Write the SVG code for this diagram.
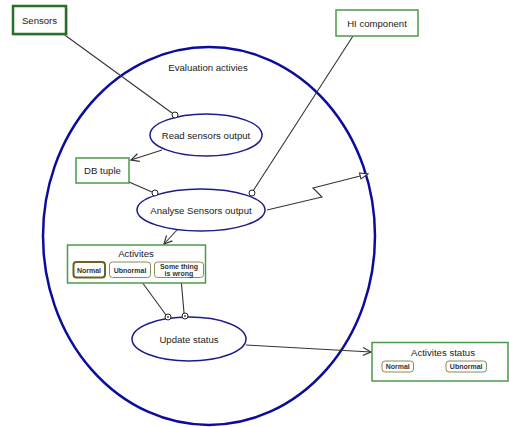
<svg xmlns="http://www.w3.org/2000/svg" width="509" height="427" viewBox="0 0 509 427">
  <style>
    text { font-family: "Liberation Sans", Arial, sans-serif; fill: #222; }
    .lbl { font-size: 9.6px; text-anchor: middle; }
    .small { font-size: 7px; font-weight: bold; text-anchor: middle; fill: #333; }
    .box { fill: #fff; stroke: #4a9a4a; stroke-width: 1.5; }
    .sub { fill: #fff; stroke: #8a8a5a; stroke-width: 1; }
    .usecase { fill: #fff; stroke: #1c1c8c; stroke-width: 1.5; }
    .conn { fill: none; stroke: #333; stroke-width: 1.1; }
    .port { fill: #fff; stroke: #222; stroke-width: 1; }
  </style>
  <defs>
    <marker id="open" viewBox="0 0 10 10" refX="9" refY="5" markerWidth="10" markerHeight="10" markerUnits="userSpaceOnUse" orient="auto">
      <path d="M1,1 L9,5 L1,9" fill="none" stroke="#333" stroke-width="1.2"/>
    </marker>
    <marker id="hollow" viewBox="0 0 10 8" refX="9" refY="4" markerWidth="10" markerHeight="8" markerUnits="userSpaceOnUse" orient="auto">
      <path d="M1,1 L9,4 L1,7 Z" fill="#fff" stroke="#333" stroke-width="1.1"/>
    </marker>
  </defs>

  <rect width="509" height="427" fill="#fff"/>

  <!-- system boundary -->
  <g id="evaluation">
    <ellipse cx="209" cy="236" rx="166" ry="189" fill="none" stroke="#0c0c9c" stroke-width="2.5"/>
    <text x="208" y="71" class="lbl">Evaluation activies</text>
  </g>

  <!-- connectors -->
  <g id="connectors">
    <line class="conn" x1="62" y1="33" x2="172" y2="113"/>
    <line class="conn" x1="162" y1="150" x2="131" y2="160" marker-end="url(#open)"/>
    <line class="conn" x1="129" y1="182" x2="152" y2="192"/>
    <line class="conn" x1="353" y1="36" x2="253" y2="191"/>
    <polyline class="conn" points="267,210 322,197 313,188 368,174" marker-end="url(#hollow)"/>
    <line class="conn" x1="177" y1="230" x2="164" y2="244" marker-end="url(#open)"/>
    <line class="conn" x1="139" y1="278" x2="166" y2="315"/>
    <line class="conn" x1="181" y1="278" x2="184" y2="313"/>
    <line class="conn" x1="246" y1="345" x2="371" y2="352" marker-end="url(#open)"/>
  </g>

  <g id="sensors">
    <rect x="15" y="8" width="53" height="28" fill="#bbb" opacity="0.5"/>
    <rect x="13" y="6" width="53" height="28" fill="#fff" stroke="#2a6e2a" stroke-width="2.5"/>
    <text x="39.5" y="24" class="lbl">Sensors</text>
  </g>

  <g id="hi-component">
    <rect x="336" y="10" width="82" height="26" class="box"/>
    <text x="377" y="26.5" class="lbl">HI component</text>
  </g>

  <g id="read-sensors">
    <ellipse cx="206" cy="135" rx="56" ry="21" class="usecase"/>
    <text x="206" y="138.5" class="lbl">Read sensors output</text>
    <circle cx="175" cy="115" r="3" class="port"/>
  </g>

  <g id="db-tuple">
    <rect x="76" y="158" width="53" height="25" class="box"/>
    <text x="102.5" y="174" class="lbl">DB tuple</text>
  </g>

  <g id="analyse-sensors">
    <ellipse cx="201" cy="210" rx="64" ry="21" class="usecase"/>
    <text x="201" y="214" class="lbl">Analyse Sensors output</text>
    <circle cx="155" cy="193" r="3" class="port"/>
    <circle cx="252" cy="193" r="3" class="port"/>
  </g>

  <g id="activites">
    <rect x="67.5" y="245" width="138" height="38" class="box"/>
    <text x="136" y="257" class="lbl">Activites</text>
    <rect x="73.5" y="262" width="31.5" height="15.5" rx="3" fill="#fff" stroke="#6a6422" stroke-width="2"/>
    <text x="89" y="272.5" class="small">Normal</text>
    <rect x="109.5" y="262" width="41" height="15.5" rx="3" class="sub"/>
    <text x="130" y="272.5" class="small">Ubnormal</text>
    <rect x="154.5" y="262" width="49" height="15.5" rx="3" class="sub"/>
    <text x="179" y="269" class="small">Some thing</text>
    <text x="179" y="276" class="small">is wrong</text>
  </g>

  <g id="update-status">
    <ellipse cx="189" cy="339" rx="57" ry="22" class="usecase"/>
    <text x="189" y="343" class="lbl">Update status</text>
    <circle cx="168" cy="317" r="3" class="port"/>
    <circle cx="185" cy="316" r="3" class="port"/>
    <circle cx="168" cy="317" r="1" fill="#555"/>
    <circle cx="185" cy="316" r="1" fill="#555"/>
  </g>

  <g id="activites-status">
    <rect x="372" y="342.5" width="136" height="38.5" class="box"/>
    <text x="443" y="355.5" class="lbl">Activites status</text>
    <rect x="382" y="361" width="31.5" height="11" rx="3" class="sub"/>
    <text x="397.7" y="369" class="small">Normal</text>
    <rect x="446" y="361" width="40.5" height="11" rx="3" class="sub"/>
    <text x="466.2" y="369" class="small">Ubnormal</text>
  </g>
</svg>
